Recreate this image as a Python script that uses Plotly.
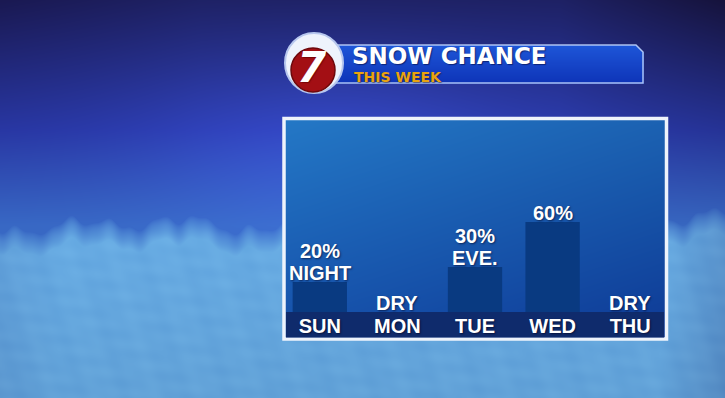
import base64
import struct
import zlib

import numpy as np
import plotly.graph_objects as go

# ---------------- data ----------------
days = ["SUN", "MON", "TUE", "WED", "THU"]
snow_chance = [20, 0, 30, 60, 0]
bar_labels = ["20%<br>NIGHT", "DRY", "30%<br>EVE.", "60%", "DRY"]
title_text = "SNOW CHANCE"
subtitle_text = "THIS WEEK"
logo_text = "7"

# ---------------- page geometry helpers ----------------
W, H = 725, 398


def px(x):
    return x / W


def py(y):
    return 1 - y / H


# ---------------- background picture (sky, snow clouds, panel fills) ----------------
yy, xx = np.mgrid[0:H, 0:W].astype(float)


def lerp(a, b, t):
    return a + (b - a) * t[..., None]


c_top = np.array([30, 33, 100.0])
c_mid = np.array([42, 58, 170.0])
c_low = np.array([56, 104, 196.0])
t1 = np.clip(yy / 130, 0, 1)
t2 = np.clip((yy - 130) / 95, 0, 1)
img = lerp(lerp(c_top, c_mid, t1), c_low, t2)
glow = np.exp(-(((xx - 330) / 180) ** 2 + ((yy - 140) / 100) ** 2))
img = img + glow[..., None] * np.array([10, 14, 28.0])
dark_r = np.clip((xx - 560) / 165, 0, 1) * np.clip(1 - yy / 260, 0, 1)
img = img - dark_r[..., None] * np.array([8, 14, 40.0])
dark_l = np.clip(1 - xx / 200, 0, 1) * np.clip(1 - yy / 220, 0, 1)
img = img - dark_l[..., None] * np.array([4, 8, 18.0])

edge = (224 + 5 * np.sin(xx / 17.0) + 4 * np.sin(xx / 7.3 + 2) + 3 * np.sin(xx / 41 + 1)
        + 1.5 * np.sin(xx / 3.1 + 0.5) + 1.5 * np.sin(xx / 4.7 + 1.7) - 8 * np.clip((xx - 600) / 125, 0, 1))
alpha = np.clip((yy - edge) / 22, 0, 1) ** 0.8
tc = np.clip((yy - 230) / 168, 0, 1)
cloud = lerp(np.array([104, 172, 228.0]), np.array([98, 162, 216.0]), tc)
tex = (3 * np.sin(xx / 13 + yy / 9) * np.sin(yy / 7 - xx / 21)
       + 2 * np.sin(xx / 5.3 - yy / 4.1) * np.sin(yy / 6.7 + xx / 8.9))
cloud = cloud + tex[..., None] * np.array([1, 1, 0.6])
rc = np.clip((xx - 660) / 65, 0, 1)
cloud = cloud - rc[..., None] * np.array([14, 24, 22.0])
lc = np.clip(1 - xx / 60, 0, 1)
cloud = cloud - lc[..., None] * np.array([6, 10, 8.0])
img = lerp(img, cloud, alpha)

# chart panel fill
pm = (xx >= 284) & (xx < 667) & (yy >= 118) & (yy < 339)
ty = np.clip((yy - 120) / 218, 0, 1)
tx = np.clip((xx - 286) / 380, 0, 1)
panel = lerp(np.array([36, 120, 198.0]), np.array([22, 80, 170.0]), ty)
panel = panel - tx[..., None] * np.array([8, 22, 20.0])
img[pm] = panel[pm]

# title banner fill (chamfered top-right corner)
bm = (xx >= 320) & (xx <= 643) & (yy >= 45) & (yy <= 83) & ((xx - 636) <= (yy - 45))
tb = np.clip((yy - 45) / 38, 0, 1)
banner = lerp(np.array([30, 86, 216.0]), np.array([14, 52, 184.0]), tb)
img[bm] = banner[bm]

img = np.clip(img, 0, 255).astype(np.uint8)


def png_data_uri(arr):
    h, w, _ = arr.shape
    raw = b"".join(b"\x00" + arr[r].tobytes() for r in range(h))

    def chunk(tag, data):
        c = struct.pack(">I", len(data)) + tag + data
        return c + struct.pack(">I", zlib.crc32(tag + data) & 0xFFFFFFFF)

    png = (b"\x89PNG\r\n\x1a\n"
           + chunk(b"IHDR", struct.pack(">IIBBBBB", w, h, 8, 2, 0, 0, 0))
           + chunk(b"IDAT", zlib.compress(raw, 9))
           + chunk(b"IEND", b""))
    return "data:image/png;base64," + base64.b64encode(png).decode()


bg_uri = png_data_uri(img)

# ---------------- figure ----------------
label_font = dict(family="Liberation Sans", size=20, color="white", weight="bold",
                  shadow="1px 1px 2px rgba(0,0,30,0.55)")

fig = go.Figure(
    go.Bar(
        x=days,
        y=snow_chance,
        width=0.70,
        marker=dict(color="#093a81", line=dict(width=0)),
        hoverinfo="x+y",
    )
)

annotations = []
for d, v, lab in zip(days, snow_chance, bar_labels):
    lines = lab.split("<br>")
    for k, line in enumerate(reversed(lines)):
        annotations.append(dict(
            x=d, y=v, xref="x", yref="y", text=line, showarrow=False,
            xanchor="center", yanchor="bottom", yshift=-2 + 22 * k, font=label_font,
            borderpad=0, borderwidth=0,
        ))

annotations += [
    dict(x=px(352), y=py(56), xref="paper", yref="paper", text=title_text,
         showarrow=False, xanchor="left", yanchor="middle", borderpad=0, borderwidth=0,
         font=dict(family="DejaVu Sans", size=23, color="white", weight="bold",
                   shadow="1px 1px 1px rgba(0,0,40,0.5)")),
    dict(x=px(354), y=py(76.5), xref="paper", yref="paper", text=subtitle_text,
         showarrow=False, xanchor="left", yanchor="middle", borderpad=0, borderwidth=0,
         font=dict(family="DejaVu Sans", size=14, color="#e9a30f", weight="bold",
                   shadow="1px 1px 1px rgba(60,30,0,0.5)")),
    dict(x=px(312), y=py(68), xref="paper", yref="paper", text=logo_text,
         showarrow=False, xanchor="center", yanchor="middle", borderpad=0, borderwidth=0,
         font=dict(family="DejaVu Sans", size=42, color="white", weight="bold",
                   style="italic", shadow="1px 1px 1px rgba(90,0,0,0.6)")),
]

banner_path = "M {:.5f},{:.5f} L {:.5f},{:.5f} L {:.5f},{:.5f} L {:.5f},{:.5f} L {:.5f},{:.5f}".format(
    px(333), py(45), px(636), py(45), px(643), py(52), px(643), py(83), px(333), py(83))

shapes = [
    # chart panel white frame
    dict(type="rect", xref="paper", yref="paper", x0=px(284), x1=px(666.5),
         y0=py(339), y1=py(118.5), line=dict(color="#eef3fb", width=3.5),
         fillcolor="rgba(0,0,0,0)", layer="below"),
    # day-name strip
    dict(type="rect", xref="paper", yref="paper", x0=px(286), x1=px(664),
         y0=py(337.5), y1=py(312), line=dict(width=0), fillcolor="#0f2b6c", layer="below"),
    # banner outline
    dict(type="path", xref="paper", yref="paper", path=banner_path,
         line=dict(color="rgba(190,210,250,0.9)", width=1.5), layer="below"),
    # logo outer disc
    dict(type="circle", xref="paper", yref="paper", x0=px(285), x1=px(343),
         y0=py(93), y1=py(33), fillcolor="#eef3fc", line=dict(color="#b7c7ee", width=2),
         layer="below"),
    # logo red disc
    dict(type="circle", xref="paper", yref="paper", x0=px(291), x1=px(335),
         y0=py(92), y1=py(48), fillcolor="#a30f14", line=dict(color="#6d080c", width=1.5),
         layer="below"),
]

fig.update_layout(
    width=W, height=H, autosize=False,
    margin=dict(l=0, r=0, t=0, b=0, pad=0),
    paper_bgcolor="#2a3aa0",
    plot_bgcolor="rgba(0,0,0,0)",
    showlegend=False,
    bargap=0.3,
    images=[dict(source=bg_uri, xref="paper", yref="paper", x=0, y=1, sizex=1, sizey=1,
                 xanchor="left", yanchor="top", sizing="stretch", layer="below")],
    shapes=shapes,
    annotations=annotations,
    xaxis=dict(
        domain=[px(281), px(669)], type="category", range=[-0.5, 4.5],
        showgrid=False, zeroline=False, showline=False, ticks="",
        tickfont=dict(family="Liberation Sans", size=20, color="white", weight="bold",
                      shadow="1px 1px 2px rgba(0,0,30,0.6)"),
        ticklabelstandoff=0, fixedrange=True,
    ),
    yaxis=dict(
        domain=[py(312), py(120)], range=[0, 128], visible=False,
        showgrid=False, zeroline=False, fixedrange=True,
    ),
)

fig.write_html("out.html", config=dict(displayModeBar=False),
               post_script="document.body.style.margin='0px';")
